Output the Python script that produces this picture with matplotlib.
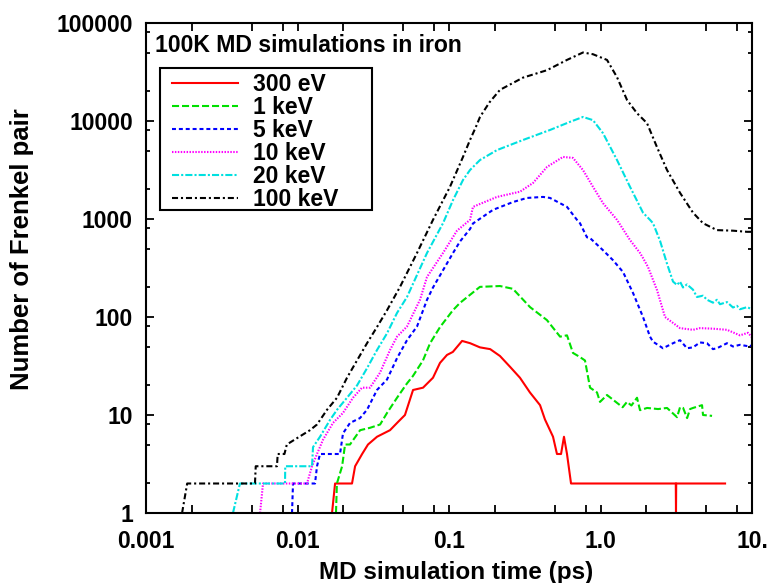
import matplotlib
matplotlib.use('Agg')
import matplotlib.pyplot as plt
from matplotlib.patches import Rectangle
from matplotlib.ticker import LogLocator, NullFormatter

plt.rcParams['font.family'] = ['Liberation Sans', 'DejaVu Sans']
plt.rcParams['font.weight'] = 'bold'

# values (time in ps, number of Frenkel pairs)
t_300ev = [0.0169, 0.0177, 0.0221, 0.0229, 0.0240, 0.0267, 0.0292, 0.0335, 0.0408, 0.0461, 0.0512,
           0.0579, 0.0674, 0.0784, 0.0872, 0.097, 0.106, 0.122, 0.138, 0.160, 0.187, 0.217, 0.253,
           0.294, 0.342, 0.399, 0.430, 0.486, 0.516, 0.549, 0.574, 0.601, 0.639, 3.14, 3.15, 3.16, 6.64]
n_300ev = [1, 2, 2, 2, 3, 4, 5, 6, 7, 8.5, 10,
           18, 19, 24, 34, 41, 44, 57, 54, 49, 47, 40, 31,
           24, 17, 12.6, 9, 6, 4, 4, 6, 4, 2, 2, 1, 2, 2]

t_1kev = [0.01795, 0.0182, 0.0197, 0.0206, 0.0222, 0.0259, 0.0301, 0.0351, 0.0390, 0.0454, 0.0528,
          0.0578, 0.0673, 0.0750, 0.0873, 0.106, 0.118, 0.160, 0.217, 0.264, 0.343, 0.443, 0.541,
          0.601, 0.658, 0.732, 0.790, 0.853, 0.948, 0.993, 1.104, 1.285, 1.40, 1.496, 1.60, 1.742,
          1.823, 2.03, 2.40, 2.75, 3.20, 3.35, 3.51, 3.73, 3.90, 4.08, 4.68, 4.75, 5.45]
n_1kev = [1, 2, 3, 5, 5, 7, 7.4, 8, 10.5, 15, 21,
          25, 36, 54, 79, 117, 139, 203, 207, 194, 126, 93, 63,
          65, 43, 39, 36, 19, 17, 13.6, 16, 13.3, 12, 13.6, 12.5, 15,
          11.2, 11.8, 11.5, 11.8, 9.5, 12, 11.8, 9.3, 11.5, 11.8, 12.6, 10, 9.8]

t_5kev = [0.0092, 0.00934, 0.01305, 0.01345, 0.01408, 0.01908, 0.01997, 0.02221, 0.02585, 0.02876,
          0.03347, 0.03896, 0.04538, 0.05283, 0.0615, 0.0716, 0.0784, 0.0913, 0.1063, 0.1182, 0.1376,
          0.144, 0.1952, 0.2645, 0.3272, 0.4174, 0.4643, 0.6008, 0.6995, 0.7321, 0.8143, 0.8524,
          1.039, 1.209, 1.408, 1.639, 1.908, 2.122, 2.221, 2.585, 3.010, 3.348, 3.724, 4.079, 4.536,
          5.045, 5.527, 5.873, 6.838, 7.49, 8.33, 9.69, 10.0]
n_5kev = [1, 2, 2, 3, 4, 4, 6.5, 8.3, 9.3, 11.3,
          18, 23, 38, 58, 80, 150, 200, 300, 450, 590, 790,
          900, 1240, 1490, 1640, 1680, 1640, 1330, 980, 906, 650, 640,
          480, 380, 288, 176, 100, 63, 56, 48, 54, 58, 48, 49, 55,
          54, 47, 48, 54, 50, 52, 50, 52]

t_10kev = [0.00566, 0.00592, 0.01155, 0.01247, 0.01345, 0.01474, 0.01715, 0.01997, 0.02325, 0.02665,
           0.0301, 0.03504, 0.04079, 0.04538, 0.05283, 0.06436, 0.07157, 0.0913, 0.1129, 0.1376,
           0.144, 0.2074, 0.2942, 0.3584, 0.4436, 0.5654, 0.6581, 0.7662, 0.8922, 1.039, 1.285,
           1.566, 1.823, 1.908, 2.058, 2.361, 2.665, 3.010, 3.348, 4.079, 4.536, 5.527, 6.838,
           8.33, 9.41, 10.0]
n_10kev = [1, 2, 2, 3, 4, 5.6, 8.3, 10.5, 15, 19,
           19, 27, 46, 63, 80, 150, 256, 450, 760, 980,
           1330, 1680, 1900, 2330, 3400, 4300, 4200, 3160, 2130, 1450, 980,
           610, 450, 400, 324, 188, 100, 87, 77, 74, 77, 76, 74,
           65, 69, 62]

t_20kev = [0.00375, 0.00417, 0.00827, 0.0083, 0.01247, 0.01266, 0.01408, 0.01639, 0.01823, 0.02122,
           0.0247, 0.02876, 0.03347, 0.03896, 0.04538, 0.05283, 0.07157, 0.0913, 0.1063, 0.1237,
           0.1376, 0.1602, 0.2074, 0.3079, 0.4643, 0.6288, 0.7662, 0.8922, 1.039, 1.285, 1.566,
           1.908, 2.122, 2.221, 2.471, 2.748, 3.010, 3.199, 3.348, 3.504, 3.724, 4.079, 4.334,
           4.747, 5.045, 5.527, 5.873, 6.147, 6.838, 7.49, 7.96, 8.33, 9.27, 10.0]
n_20kev = [1, 2, 2, 3, 3, 4.7, 6, 8.9, 11.3, 15,
           20, 30, 46, 68, 110, 160, 450, 906, 1560, 2500,
           3160, 4000, 5050, 6400, 8100, 9800, 11000, 10200, 7500, 4000, 2130,
           1160, 980, 906, 600, 350, 230, 212, 230, 200, 215, 190, 160,
           165, 150, 140, 150, 135, 142, 125, 130, 120, 126, 120]

t_100kev = [0.00173, 0.00187, 0.00524, 0.0053, 0.00732, 0.0074, 0.0082, 0.0085, 0.00992, 0.01209,
            0.01345, 0.01566, 0.01823, 0.02122, 0.0247, 0.02876, 0.03347, 0.03896, 0.0475, 0.06149,
            0.0784, 0.1015, 0.1237, 0.1376, 0.150, 0.1602, 0.185, 0.2171, 0.3079, 0.4436, 0.6008,
            0.7662, 0.8922, 1.104, 1.285, 1.496, 1.742, 2.028, 2.361, 2.748, 3.348, 4.079, 4.747,
            5.873, 7.49, 9.27, 10.0]
n_100kev = [1, 2, 2, 3, 3, 4, 4, 5, 5.8, 7,
            8, 11.3, 15, 24, 36, 54, 79, 117, 203, 450,
            980, 2130, 4300, 6400, 8600, 11000, 15500, 20800, 27700, 33000, 42000,
            50000, 48000, 42000, 28000, 16400, 12000, 9500, 5400, 3160, 1850, 1160, 906,
            770, 760, 740, 740]

x_ticks = [0.001, 0.01, 0.1, 1.0, 10.0]
x_tick_labels = ['0.001', '0.01', '0.1', '1.0', '10.']
y_ticks = [1, 10, 100, 1000, 10000, 100000]
y_tick_labels = ['1', '10', '100', '1000', '10000', '100000']

series = [
    (t_300ev, n_300ev, '#ff0000', None, '300 eV'),
    (t_1kev, n_1kev, '#00e000', (3.4, 1.4), '1 keV'),
    (t_5kev, n_5kev, '#0000ff', (1.9, 1.4), '5 keV'),
    (t_10kev, n_10kev, '#ff00ff', (0.7, 0.7), '10 keV'),
    (t_20kev, n_20kev, '#00e0e0', (3.4, 1.0, 1.0, 1.0), '20 keV'),
    (t_100kev, n_100kev, '#000000', (2.9, 1.4, 1.0, 1.4), '100 keV'),
]

W, H = 767, 583
fig = plt.figure(figsize=(W / 100, H / 100), dpi=100)
ax = fig.add_axes([146 / W, 1 - 513 / H, 606 / W, 490 / H])

for t, n, color, dashes, label in series:
    line, = ax.plot(t, n, color=color, lw=1.5, label=label)
    if dashes is not None:
        line.set_dashes(dashes)

ax.set_xscale('log')
ax.set_yscale('log')
ax.set_xlim(0.001, 10)
ax.set_ylim(1, 100000)
ax.set_xticks(x_ticks)
ax.set_xticklabels(x_tick_labels)
ax.set_yticks(y_ticks)
ax.set_yticklabels(y_tick_labels)
ax.xaxis.set_minor_locator(LogLocator(base=10, subs=(2, 5, 8)))
ax.yaxis.set_minor_locator(LogLocator(base=10, subs=(2, 5, 8)))
ax.xaxis.set_minor_formatter(NullFormatter())
ax.yaxis.set_minor_formatter(NullFormatter())
ax.tick_params(which='both', direction='in', top=True, right=True, width=1.3, labelsize=16.5)
ax.tick_params(which='major', length=6)
ax.tick_params(axis='x', which='major', pad=12)
ax.tick_params(axis='y', which='major', pad=9.5)
ax.tick_params(axis='x', which='minor', length=5.5)
ax.tick_params(axis='y', which='minor', length=3)
for s in ax.spines.values():
    s.set_linewidth(1.5)

fig.text(456 / W, 1 - 572 / H, 'MD simulation time (ps)', ha='center', va='center',
         fontsize=17.5, fontweight='bold')
fig.text(22 / W, 1 - 249 / H, 'Number of Frenkel pair', ha='center', va='center',
         rotation=90, fontsize=18.5, fontweight='bold')
fig.text(155 / W, 1 - 46 / H, '100K MD simulations in iron', ha='left', va='center',
         fontsize=16.6, fontweight='bold')

# legend box drawn separately, gnuplot leaves extra room on the right
fig.patches.append(Rectangle((160 / W, 1 - 210 / H), 212 / W, 142 / H, transform=fig.transFigure,
                             fill=False, edgecolor='black', linewidth=1.5))
leg = ax.legend(loc='upper left', bbox_to_anchor=(172 / W, 1 - 73 / H),
                bbox_transform=fig.transFigure, borderaxespad=0, borderpad=0, fontsize=16.5,
                handlelength=2.9, handletextpad=0.65, labelspacing=0.0, frameon=False)

fig.savefig('out.png', dpi=100)
